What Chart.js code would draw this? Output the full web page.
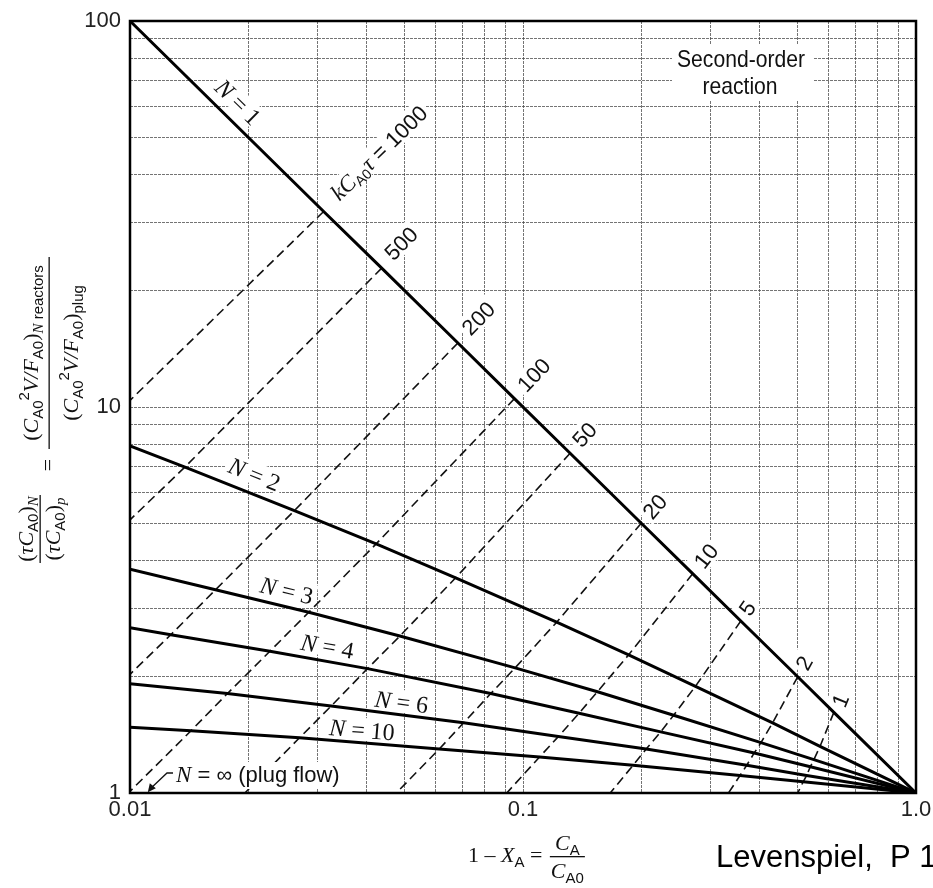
<!DOCTYPE html>
<html>
<head>
<meta charset="utf-8">
<script src="https://cdn.jsdelivr.net/npm/chart.js@4.4.0/dist/chart.umd.min.js"></script>
<style>
  html, body { margin: 0; padding: 0; background: #fff; overflow: hidden; }
  canvas { display: block; }
</style>
</head>
<body>
<canvas id="chart" width="933" height="888"></canvas>
<script>
// Second-order reaction: N equal mixed-flow reactors in series compared with plug flow.
// x = 1 - X_A = C_A / C_A0, y = (tau C_A0)_N / (tau C_A0)_plug

// Solid curves, one per number of reactors N
const xN1 = [0.01, 0.0311, 0.0437, 0.0683, 0.0951, 0.1318, 0.2, 0.2702, 0.3583, 0.5, 0.618, 1.0];
const yN1 = [100, 32.1, 22.9, 14.65, 10.51, 7.59, 5.0, 3.70, 2.79, 2.0, 1.618, 1.0];
const xN2 = [0.01, 0.0138, 0.0262, 0.0423, 0.0674, 0.1218, 0.1857, 0.2747, 0.4317, 0.5698, 1.0];
const yN2 = [7.93, 6.99, 5.39, 4.42, 3.61, 2.77, 2.28, 1.89, 1.52, 1.32, 1.0];
const xN3 = [0.01, 0.0165, 0.0285, 0.0486, 0.0955, 0.1547, 0.2417, 0.4032, 0.5496, 1.0];
const yN3 = [3.80, 3.36, 2.94, 2.55, 2.11, 1.83, 1.59, 1.35, 1.22, 1.0];
const xN4 = [0.01, 0.0127, 0.0227, 0.0402, 0.0828, 0.1389, 0.2241, 0.3876, 0.5385, 1.0];
const yN4 = [2.68, 2.57, 2.33, 2.10, 1.81, 1.61, 1.44, 1.27, 1.17, 1.0];
const xN6 = [0.01, 0.0177, 0.0325, 0.0706, 0.123, 0.2058, 0.3709, 0.5267, 1.0];
const yN6 = [1.92, 1.81, 1.68, 1.52, 1.40, 1.30, 1.18, 1.11, 1.0];
const xN10 = [0.01, 0.0143, 0.027, 0.0612, 0.1102, 0.1906, 0.3566, 0.5166, 1.0];
const yN10 = [1.48, 1.45, 1.39, 1.30, 1.24, 1.18, 1.11, 1.07, 1.0];

// Dashed lines of constant k C_A0 tau (from the N = 1 curve down to plug flow)
const xK1000 = [0.0311, 0.01];
const yK1000 = [32.1, 10.4];
const xK500 = [0.0437, 0.0138, 0.01];
const yK500 = [22.9, 6.99, 5.1];
const xK200 = [0.0683, 0.0262, 0.0165, 0.0127, 0.01];
const yK200 = [14.65, 5.39, 3.36, 2.57, 2.03];
const xK100 = [0.0951, 0.0423, 0.0285, 0.0227, 0.0177, 0.0143, 0.0099];
const yK100 = [10.51, 4.42, 2.94, 2.33, 1.81, 1.45, 1.0];
const xK50 = [0.1318, 0.0674, 0.0486, 0.0402, 0.0325, 0.027, 0.0196];
const yK50 = [7.59, 3.61, 2.55, 2.10, 1.68, 1.39, 1.0];
const xK20 = [0.2, 0.1218, 0.0955, 0.0828, 0.0706, 0.0612, 0.0476];
const yK20 = [5.0, 2.77, 2.11, 1.81, 1.52, 1.30, 1.0];
const xK10 = [0.2702, 0.1857, 0.1547, 0.1389, 0.123, 0.1102, 0.0909];
const yK10 = [3.70, 2.28, 1.83, 1.61, 1.40, 1.24, 1.0];
const xK5 = [0.3583, 0.2747, 0.2417, 0.2241, 0.2058, 0.1906, 0.1667];
const yK5 = [2.79, 1.89, 1.59, 1.44, 1.30, 1.18, 1.0];
const xK2 = [0.5, 0.4317, 0.4032, 0.3876, 0.3709, 0.3566, 0.3333];
const yK2 = [2.0, 1.52, 1.35, 1.27, 1.18, 1.11, 1.0];
const xK1 = [0.618, 0.5698, 0.5496, 0.5385, 0.5267, 0.5166, 0.5];
const yK1 = [1.618, 1.32, 1.22, 1.17, 1.11, 1.07, 1.0];

// Log grid positions and the labelled ticks
const gridX = [0.01, 0.02, 0.03, 0.04, 0.05, 0.06, 0.07, 0.08, 0.09,
               0.1, 0.2, 0.3, 0.4, 0.5, 0.6, 0.7, 0.8, 0.9, 1.0];
const gridY = [1, 2, 3, 4, 5, 6, 7, 8, 9, 10, 20, 30, 40, 50, 60, 70, 80, 90, 100];
const xTickValues = [0.01, 0.1, 1.0];
const xTickLabels = ['0.01', '0.1', '1.0'];
const yTickValues = [1, 10, 100];
const yTickLabels = ['1', '10', '100'];

const SANS = '"Liberation Sans", Arial, Helvetica, sans-serif';
const SERIF = '"Liberation Serif", "Times New Roman", serif';

function pts(xs, ys) { return xs.map((x, i) => ({ x: x, y: ys[i] })); }

const solid = (xs, ys) => ({
  data: pts(xs, ys), showLine: true, borderColor: '#000', borderWidth: 3,
  pointRadius: 0, fill: false, tension: 0, order: 1
});
const dashed = (xs, ys) => ({
  data: pts(xs, ys), showLine: true, borderColor: '#111', borderWidth: 1.6,
  borderDash: [9, 5], pointRadius: 0, fill: false, tension: 0, order: 2
});

const datasets = [
  solid(xN1, yN1), solid(xN2, yN2), solid(xN3, yN3), solid(xN4, yN4), solid(xN6, yN6), solid(xN10, yN10),
  dashed(xK1000, yK1000), dashed(xK500, yK500), dashed(xK200, yK200), dashed(xK100, yK100),
  dashed(xK50, yK50), dashed(xK20, yK20), dashed(xK10, yK10), dashed(xK5, yK5),
  dashed(xK2, yK2), dashed(xK1, yK1)
];

// Curve labels: point on the curve (x value) and distance of the label above it
const curveLabels = [
  { n: '1', xs: xN1, ys: yN1, at: 0.0175, off: 18 },
  { n: '2', xs: xN2, ys: yN2, at: 0.0199, off: 19 },
  { n: '3', xs: xN3, ys: yN3, at: 0.0245, off: 16 },
  { n: '4', xs: xN4, ys: yN4, at: 0.0313, off: 15 },
  { n: '6', xs: xN6, ys: yN6, at: 0.0486, off: 13 },
  { n: '10', xs: xN10, ys: yN10, at: 0.0387, off: 13 }
];
// Labels at the upper ends of the dashed lines
const kLabels = [
  { t: '1000', xs: xK1000, ys: yK1000, dx: 55, dy: -59 },
  { t: '500', xs: xK500, ys: yK500, dx: 19, dy: -25 },
  { t: '200', xs: xK200, ys: yK200, dx: 20, dy: -25 },
  { t: '100', xs: xK100, ys: yK100, dx: 19, dy: -24 },
  { t: '50', xs: xK50, ys: yK50, dx: 14, dy: -19 },
  { t: '20', xs: xK20, ys: yK20, dx: 13, dy: -17 },
  { t: '10', xs: xK10, ys: yK10, dx: 13, dy: -18 },
  { t: '5', xs: xK5, ys: yK5, dx: 6, dy: -13 },
  { t: '2', xs: xK2, ys: yK2, dx: 6, dy: -14 },
  { t: '1', xs: xK1, ys: yK1, dx: 6, dy: -12 }
];

function runsWidth(ctx, runs) {
  let w = 0;
  for (const r of runs) { ctx.font = r.f; w += ctx.measureText(r.t).width; }
  return w;
}
function drawRuns(ctx, runs, x, y, align) {
  const w = runsWidth(ctx, runs);
  let cx = align === 'center' ? x - w / 2 : (align === 'right' ? x - w : x);
  ctx.textAlign = 'left';
  ctx.textBaseline = 'alphabetic';
  for (const r of runs) {
    ctx.font = r.f;
    ctx.fillText(r.t, cx, y + (r.dy || 0));
    cx += ctx.measureText(r.t).width;
  }
  return w;
}

function curveRuns(n) {
  return [
    { t: 'N', f: 'italic 24px ' + SERIF },
    { t: ' = ' + n, f: '24px ' + SERIF }
  ];
}
function kRuns(t) {
  if (t === '1000') {
    return [
      { t: 'k', f: 'italic 23px ' + SERIF },
      { t: 'C', f: 'italic 23px ' + SERIF },
      { t: 'A0', f: '14px ' + SANS, dy: 4 },
      { t: '\u03C4', f: 'italic 23px ' + SERIF },
      { t: ' = 1000', f: '22px ' + SANS }
    ];
  }
  return [{ t: t, f: '22px ' + SANS }];
}

function curvePlacement(chart, L) {
  const sx = chart.scales.x, sy = chart.scales.y;
  let i = 0;
  while (i < L.xs.length - 2 && L.xs[i + 1] < L.at) i++;
  const p0 = { x: sx.getPixelForValue(L.xs[i]), y: sy.getPixelForValue(L.ys[i]) };
  const p1 = { x: sx.getPixelForValue(L.xs[i + 1]), y: sy.getPixelForValue(L.ys[i + 1]) };
  const px = sx.getPixelForValue(L.at);
  const t = (px - p0.x) / (p1.x - p0.x);
  return {
    x: px, y: p0.y + t * (p1.y - p0.y),
    angle: Math.atan2(p1.y - p0.y, p1.x - p0.x)
  };
}
function kPlacement(chart, L) {
  const sx = chart.scales.x, sy = chart.scales.y;
  const p0 = { x: sx.getPixelForValue(L.xs[0]), y: sy.getPixelForValue(L.ys[0]) };
  const p1 = { x: sx.getPixelForValue(L.xs[1]), y: sy.getPixelForValue(L.ys[1]) };
  return { x: p0.x + L.dx, y: p0.y + L.dy, angle: Math.atan2(p0.y - p1.y, p0.x - p1.x) };
}

const plugFlowRuns = [
  { t: 'N', f: 'italic 23px ' + SERIF },
  { t: ' = \u221E (plug flow)', f: '22px ' + SANS }
];

// White boxes behind the labels so the grid does not run through them
const knockouts = {
  id: 'knockouts',
  beforeDatasetsDraw(chart) {
    const ctx = chart.ctx;
    ctx.save();
    ctx.fillStyle = '#fff';
    ctx.fillRect(672, 44, 141, 57);
    for (const L of curveLabels) {
      const p = curvePlacement(chart, L);
      const w = runsWidth(ctx, curveRuns(L.n));
      ctx.save();
      ctx.translate(p.x, p.y);
      ctx.rotate(p.angle);
      ctx.fillRect(-w / 2 - 3, -L.off - 12, w + 6, 22);
      ctx.restore();
    }
    for (const L of kLabels) {
      const p = kPlacement(chart, L);
      const w = runsWidth(ctx, kRuns(L.t));
      ctx.save();
      ctx.translate(p.x, p.y);
      ctx.rotate(p.angle);
      ctx.fillRect(-w / 2 - 3, -12, w + 6, 23);
      ctx.restore();
    }
    ctx.restore();
  }
};

// Frame, labels on the curves, axis labels and titles
const annotations = {
  id: 'annotations',
  afterDatasetsDraw(chart) {
    const ctx = chart.ctx;
    const a = chart.chartArea;
    const sx = chart.scales.x, sy = chart.scales.y;
    ctx.save();

    // Plug flow label sits on its own white box, above the dashed lines
    ctx.fillStyle = '#fff';
    const pw = runsWidth(ctx, plugFlowRuns);
    ctx.fillRect(a.left + 44, a.bottom - 31, pw + 5, 27);

    ctx.strokeStyle = '#000';
    ctx.lineWidth = 2.5;
    ctx.strokeRect(a.left, a.top, a.right - a.left, a.bottom - a.top);

    ctx.fillStyle = '#111';
    for (const L of curveLabels) {
      const p = curvePlacement(chart, L);
      ctx.save();
      ctx.translate(p.x, p.y);
      ctx.rotate(p.angle);
      drawRuns(ctx, curveRuns(L.n), 0, -L.off + 8, 'center');
      ctx.restore();
    }
    for (const L of kLabels) {
      const p = kPlacement(chart, L);
      ctx.save();
      ctx.translate(p.x, p.y);
      ctx.rotate(p.angle);
      drawRuns(ctx, kRuns(L.t), 0, 8, 'center');
      ctx.restore();
    }

    // Second-order reaction note
    ctx.font = '24px ' + SANS;
    ctx.textAlign = 'center';
    ctx.textBaseline = 'alphabetic';
    ctx.save(); ctx.translate(741, 67); ctx.scale(0.88, 1); ctx.fillText('Second-order', 0, 0); ctx.restore();
    ctx.save(); ctx.translate(740, 94); ctx.scale(0.88, 1); ctx.fillText('reaction', 0, 0); ctx.restore();

    // Plug flow label with its leader arrow
    drawRuns(ctx, plugFlowRuns, a.left + 46, a.bottom - 11, 'left');
    const tipX = sx.getPixelForValue(0.0111), tipY = sy.getPixelForValue(1.005);
    ctx.strokeStyle = '#111';
    ctx.lineWidth = 1.3;
    ctx.beginPath();
    ctx.moveTo(a.left + 43, a.bottom - 20);
    ctx.lineTo(a.left + 37, a.bottom - 20);
    ctx.lineTo(tipX + 2, tipY - 3);
    ctx.stroke();
    ctx.beginPath();
    ctx.moveTo(tipX, tipY);
    ctx.lineTo(tipX + 2, tipY - 9);
    ctx.lineTo(tipX + 8, tipY - 4);
    ctx.closePath();
    ctx.fillStyle = '#111';
    ctx.fill();
    ctx.restore();
  },
  afterDraw(chart) {
    const ctx = chart.ctx;
    const a = chart.chartArea;
    const sx = chart.scales.x, sy = chart.scales.y;
    ctx.save();
    ctx.fillStyle = '#222';
    ctx.font = '22px ' + SANS;
    ctx.textAlign = 'right';
    ctx.textBaseline = 'middle';
    yTickValues.forEach((v, i) => ctx.fillText(yTickLabels[i], a.left - 9, sy.getPixelForValue(v)));
    ctx.textAlign = 'center';
    ctx.textBaseline = 'top';
    xTickValues.forEach((v, i) => ctx.fillText(xTickLabels[i], sx.getPixelForValue(v), a.bottom + 6));

    // x-axis title: 1 - X_A = C_A / C_A0
    ctx.fillStyle = '#111';
    const it20 = 'italic 22px ' + SERIF, rm20 = '22px ' + SERIF, sub13 = '15px ' + SANS;
    const x0 = 468;
    const w1 = drawRuns(ctx, [
      { t: '1 \u2013 ', f: rm20 }, { t: 'X', f: it20 }, { t: 'A', f: sub13, dy: 5 }, { t: ' = ', f: rm20 }
    ], x0, 862, 'left');
    const fx = x0 + w1 + 2;
    const num = [{ t: 'C', f: it20 }, { t: 'A', f: sub13, dy: 5 }];
    const den = [{ t: 'C', f: it20 }, { t: 'A0', f: sub13, dy: 5 }];
    const fw = Math.max(runsWidth(ctx, num), runsWidth(ctx, den)) + 2;
    drawRuns(ctx, num, fx + fw / 2, 850, 'center');
    drawRuns(ctx, den, fx + fw / 2, 878, 'center');
    ctx.fillRect(fx, 856, fw, 1.3);

    // y-axis title, written bottom to top
    ctx.save();
    ctx.rotate(-Math.PI / 2);
    const it22 = 'italic 22px ' + SERIF, rm22 = '22px ' + SERIF, s15 = '15px ' + SANS, i15 = 'italic 15px ' + SERIF;
    const bigTop = [
      { t: '(', f: rm22 }, { t: 'C', f: it22 }, { t: 'A0', f: s15, dy: 5 }, { t: '2', f: s15, dy: -9 },
      { t: 'V/F', f: it22 }, { t: 'A0', f: s15, dy: 5 }, { t: ')', f: rm22 },
      { t: 'N', f: i15, dy: 5 }, { t: ' reactors', f: s15, dy: 5 }
    ];
    const bigBot = [
      { t: '(', f: rm22 }, { t: 'C', f: it22 }, { t: 'A0', f: s15, dy: 5 }, { t: '2', f: s15, dy: -9 },
      { t: 'V/F', f: it22 }, { t: 'A0', f: s15, dy: 5 }, { t: ')', f: rm22 },
      { t: 'plug', f: s15, dy: 5 }
    ];
    drawRuns(ctx, bigTop, -353, 38, 'center');
    drawRuns(ctx, bigBot, -353, 78, 'center');
    ctx.fillRect(-449, 48.5, 192, 1.3);
    ctx.font = rm22;
    ctx.textAlign = 'center';
    ctx.fillText('=', -465, 55);
    const smTop = [
      { t: '(', f: rm22 }, { t: '\u03C4', f: it22 }, { t: 'C', f: it22 }, { t: 'A0', f: s15, dy: 5 },
      { t: ')', f: rm22 }, { t: 'N', f: i15, dy: 5 }
    ];
    const smBot = [
      { t: '(', f: rm22 }, { t: '\u03C4', f: it22 }, { t: 'C', f: it22 }, { t: 'A0', f: s15, dy: 5 },
      { t: ')', f: rm22 }, { t: 'p', f: i15, dy: 5 }
    ];
    drawRuns(ctx, smTop, -529, 33, 'center');
    drawRuns(ctx, smBot, -529, 60, 'center');
    ctx.fillRect(-563, 39.5, 68, 1.3);
    ctx.restore();

    // Source note
    ctx.fillStyle = '#000';
    ctx.font = '31px ' + SANS;
    ctx.textAlign = 'left';
    ctx.textBaseline = 'alphabetic';
    ctx.fillText('Levenspiel,  P 1', 716, 867);
    ctx.restore();
  }
};

const gridStyle = { color: 'rgba(70,70,70,0.75)', lineWidth: 1, drawTicks: false };

new Chart(document.getElementById('chart'), {
  type: 'scatter',
  data: { datasets: datasets },
  options: {
    responsive: false,
    animation: false,
    events: [],
    layout: { padding: { left: 130, right: 17, top: 21, bottom: 95 } },
    plugins: { legend: { display: false }, tooltip: { enabled: false } },
    scales: {
      x: {
        type: 'logarithmic', min: 0.01, max: 1,
        ticks: { display: false },
        grid: gridStyle,
        border: { display: false, dash: [3, 1] },
        afterBuildTicks: s => { s.ticks = gridX.map(v => ({ value: v })); }
      },
      y: {
        type: 'logarithmic', min: 1, max: 100,
        ticks: { display: false },
        grid: gridStyle,
        border: { display: false, dash: [3, 1] },
        afterBuildTicks: s => { s.ticks = gridY.map(v => ({ value: v })); }
      }
    }
  },
  plugins: [knockouts, annotations]
});
</script>
</body>
</html>
